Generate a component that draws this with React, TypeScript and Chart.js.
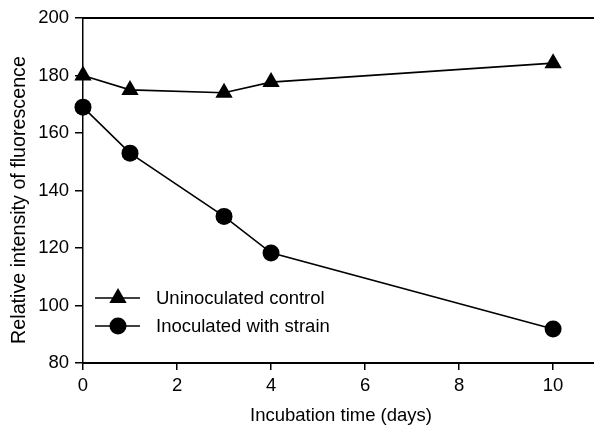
import React, { useEffect, useRef } from "react";
import { Chart, registerables } from "chart.js";

Chart.register(...registerables);

const days = [0, 1, 3, 4, 10];
const controlValues = [180, 175, 174, 177.7, 184.3];
const inoculatedValues = [169, 153, 131, 118.3, 91.8];
const xTickValues = [0, 2, 4, 6, 8, 10];
const seriesLabels = ["Uninoculated control", "Inoculated with strain"];
const xTitle = "Incubation time (days)";
const yTitle = "Relative intensity of fluorescence";

const FONT = '"Liberation Sans", Arial, Helvetica, sans-serif';

const decorPlugin = {
  id: "decor",
  afterDraw(chart: any) {
    const { ctx, chartArea } = chart;
    ctx.save();
    // top frame line
    ctx.strokeStyle = "#000";
    ctx.lineWidth = 2;
    ctx.beginPath();
    ctx.moveTo(chartArea.left - 1, chartArea.top);
    ctx.lineTo(chartArea.right, chartArea.top);
    ctx.stroke();

    // axis titles
    ctx.fillStyle = "#000";
    ctx.font = `18.5px ${FONT}`;
    ctx.textAlign = "center";
    ctx.textBaseline = "alphabetic";
    ctx.fillText(xTitle, 341, 421);

    ctx.save();
    ctx.translate(25, 200);
    ctx.rotate(-Math.PI / 2);
    ctx.font = `19.7px ${FONT}`;
    ctx.textAlign = "center";
    ctx.textBaseline = "alphabetic";
    ctx.fillText(yTitle, 0, 0);
    ctx.restore();

    // legend
    const rows = [298, 326];
    chart.data.datasets.forEach((ds: any, i: number) => {
      const y = rows[i];
      ctx.strokeStyle = "#000";
      ctx.fillStyle = "#000";
      ctx.lineWidth = 1.5;
      ctx.beginPath();
      ctx.moveTo(95, y);
      ctx.lineTo(140, y);
      ctx.stroke();
      const cx = 118;
      const r = ds.pointRadius;
      ctx.beginPath();
      if (ds.pointStyle === "triangle") {
        let rad = 0;
        ctx.moveTo(cx + Math.sin(rad) * r, y - Math.cos(rad) * r);
        rad += (2 * Math.PI) / 3;
        ctx.lineTo(cx + Math.sin(rad) * r, y - Math.cos(rad) * r);
        rad += (2 * Math.PI) / 3;
        ctx.lineTo(cx + Math.sin(rad) * r, y - Math.cos(rad) * r);
        ctx.closePath();
      } else {
        ctx.arc(cx, y, r, 0, Math.PI * 2);
      }
      ctx.fill();
      ctx.font = `18.5px ${FONT}`;
      ctx.textBaseline = "middle";
      ctx.textAlign = "left";
      ctx.fillText(ds.label, 156, y + 1);
    });
    ctx.restore();
  },
};

export default function App() {
  const ref = useRef<HTMLCanvasElement>(null);
  useEffect(() => {
    if (!ref.current) return;
    const chart = new Chart(ref.current, {
      type: "line",
      data: {
        datasets: [
          {
            label: seriesLabels[0],
            data: days.map((d, i) => ({ x: d, y: controlValues[i] })),
            borderColor: "#000",
            backgroundColor: "#000",
            borderWidth: 1.6,
            pointStyle: "triangle",
            pointRadius: 10,
            pointBorderWidth: 0,
            pointBackgroundColor: "#000",
            clip: false as any,
          },
          {
            label: seriesLabels[1],
            data: days.map((d, i) => ({ x: d, y: inoculatedValues[i] })),
            borderColor: "#000",
            backgroundColor: "#000",
            borderWidth: 1.6,
            pointStyle: "circle",
            pointRadius: 8.5,
            pointBorderWidth: 0,
            pointBackgroundColor: "#000",
            clip: false as any,
          },
        ],
      },
      options: {
        responsive: false,
        animation: false,
        layout: {
          autoPadding: false,
          padding: { top: 18, right: 0, left: 0, bottom: 0 },
        },
        plugins: {
          legend: { display: false },
          tooltip: { enabled: false },
        },
        scales: {
          x: {
            type: "linear",
            min: 0,
            max: 10.87,
            afterBuildTicks: (scale: any) => {
              scale.ticks = xTickValues.map((v) => ({ value: v }));
            },
            afterFit: (scale: any) => {
              scale.height = 62;
              scale.paddingLeft = 0;
              scale.paddingRight = 0;
            },
            ticks: {
              font: { family: FONT, size: 18.5 },
              color: "#000",
              padding: 5,
              maxRotation: 0,
            },
            grid: {
              drawOnChartArea: false,
              drawTicks: true,
              tickLength: 7,
              color: "#000",
              lineWidth: 1.5,
            },
            border: { color: "#000", width: 2 },
          },
          y: {
            type: "linear",
            min: 80,
            max: 200,
            ticks: {
              stepSize: 20,
              font: { family: FONT, size: 18.5 },
              color: "#000",
              padding: 6,
            },
            afterFit: (scale: any) => {
              scale.width = 83;
            },
            grid: {
              drawOnChartArea: false,
              drawTicks: true,
              tickLength: 8,
              color: "#000",
              lineWidth: 1.5,
            },
            border: { color: "#000", width: 1.5 },
          },
        },
      },
      plugins: [decorPlugin],
    });
    return () => chart.destroy();
  }, []);
  return (
    <canvas
      ref={ref}
      width={594}
      height={425}
      style={{ position: "absolute", left: 0, top: 0, width: 594, height: 425 }}
    />
  );
}
